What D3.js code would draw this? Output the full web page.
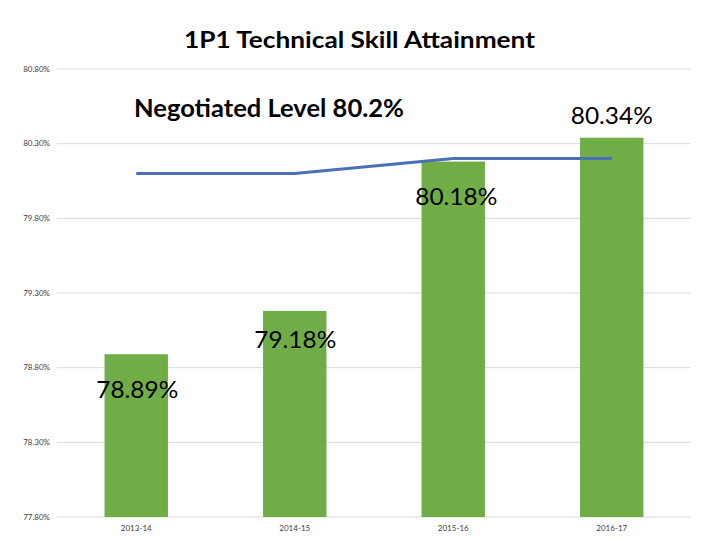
<!DOCTYPE html>
<html><head><meta charset="utf-8">
<script src="https://cdn.jsdelivr.net/npm/d3@7"></script>
<style>body{margin:0;background:#fff;} svg{display:block;}</style>
</head><body>
<script>
const categories = ["2013-14","2014-15","2015-16","2016-17"];
const actualValues = [78.89, 79.18, 80.18, 80.34];
const negotiatedValues = [80.10, 80.10, 80.20, 80.20];
const yTicks = [77.8, 78.3, 78.8, 79.3, 79.8, 80.3, 80.8];
const dataLabels = ["78.89%","79.18%","80.18%","80.34%"];
const titleText = "1P1 Technical Skill Attainment";
const annotationText = "Negotiated Level 80.2%";

(function () {
const W = 720, H = 540;
const svg = d3.select("body").append("svg").attr("width", W).attr("height", H);
const mLeft = 57, mRight = 691, mTop = 69, mBottom = 517;
const font = "Lato, 'Open Sans', sans-serif";

const x = d3.scaleBand().domain(categories).range([mLeft, mRight]).paddingInner(0.6).paddingOuter(0.3);
const y = d3.scaleLinear().domain([77.8, 80.8]).range([mBottom, mTop]);

// gridlines
svg.append("g").selectAll("line").data(yTicks).join("line")
  .attr("x1", mLeft).attr("x2", mRight)
  .attr("y1", d => y(d)).attr("y2", d => y(d))
  .attr("stroke", "#d9d9d9").attr("stroke-width", 1);

// y labels
svg.append("g").selectAll("text").data(yTicks).join("text")
  .attr("x", 50).attr("y", d => y(d)).attr("dy", "0.35em")
  .attr("text-anchor", "end").attr("font-family", font).attr("font-size", 8)
  .attr("fill", "#404040")
  .text(d => d.toFixed(2) + "%");

// bars
svg.append("g").selectAll("rect").data(categories).join("rect")
  .attr("x", d => x(d)).attr("width", x.bandwidth())
  .attr("y", (d, i) => y(actualValues[i]))
  .attr("height", (d, i) => y(77.8) - y(actualValues[i]))
  .attr("fill", "#70AD47");

// x labels
svg.append("g").selectAll("text").data(categories).join("text")
  .attr("x", d => x(d) + x.bandwidth() / 2).attr("y", 531)
  .attr("text-anchor", "middle").attr("font-family", font).attr("font-size", 8)
  .attr("fill", "#404040")
  .text(d => d);

// negotiated line
const line = d3.line().x((d, i) => x(categories[i]) + x.bandwidth() / 2).y(d => y(d));
svg.append("path").datum(negotiatedValues).attr("d", line)
  .attr("fill", "none").attr("stroke", "#4A70B5").attr("stroke-width", 3);

// data labels (offsets as placed in reference)
const labelOffsets = [[1, 44], [0.5, 37], [3, 43], [0, -14]];
svg.append("g").selectAll("text").data(categories).join("text")
  .attr("x", (d, i) => x(d) + x.bandwidth() / 2 + labelOffsets[i][0])
  .attr("y", (d, i) => y(actualValues[i]) + labelOffsets[i][1])
  .attr("text-anchor", "middle").attr("font-family", font).attr("font-size", 23)
  .attr("fill", "#000")
  .attr("textLength", 82).attr("lengthAdjust", "spacingAndGlyphs")
  .text((d, i) => dataLabels[i]);

// title
svg.append("text").attr("x", 359.5).attr("y", 48).attr("text-anchor", "middle")
  .attr("font-family", font).attr("font-weight", "bold").attr("font-size", 23)
  .attr("textLength", 351).attr("lengthAdjust", "spacingAndGlyphs")
  .text(titleText);

// annotation
svg.append("text").attr("x", 134).attr("y", 117)
  .attr("font-family", font).attr("font-weight", "bold").attr("font-size", 25)
  .attr("textLength", 270).attr("lengthAdjust", "spacingAndGlyphs")
  .text(annotationText);
})();
</script>
</body></html>
